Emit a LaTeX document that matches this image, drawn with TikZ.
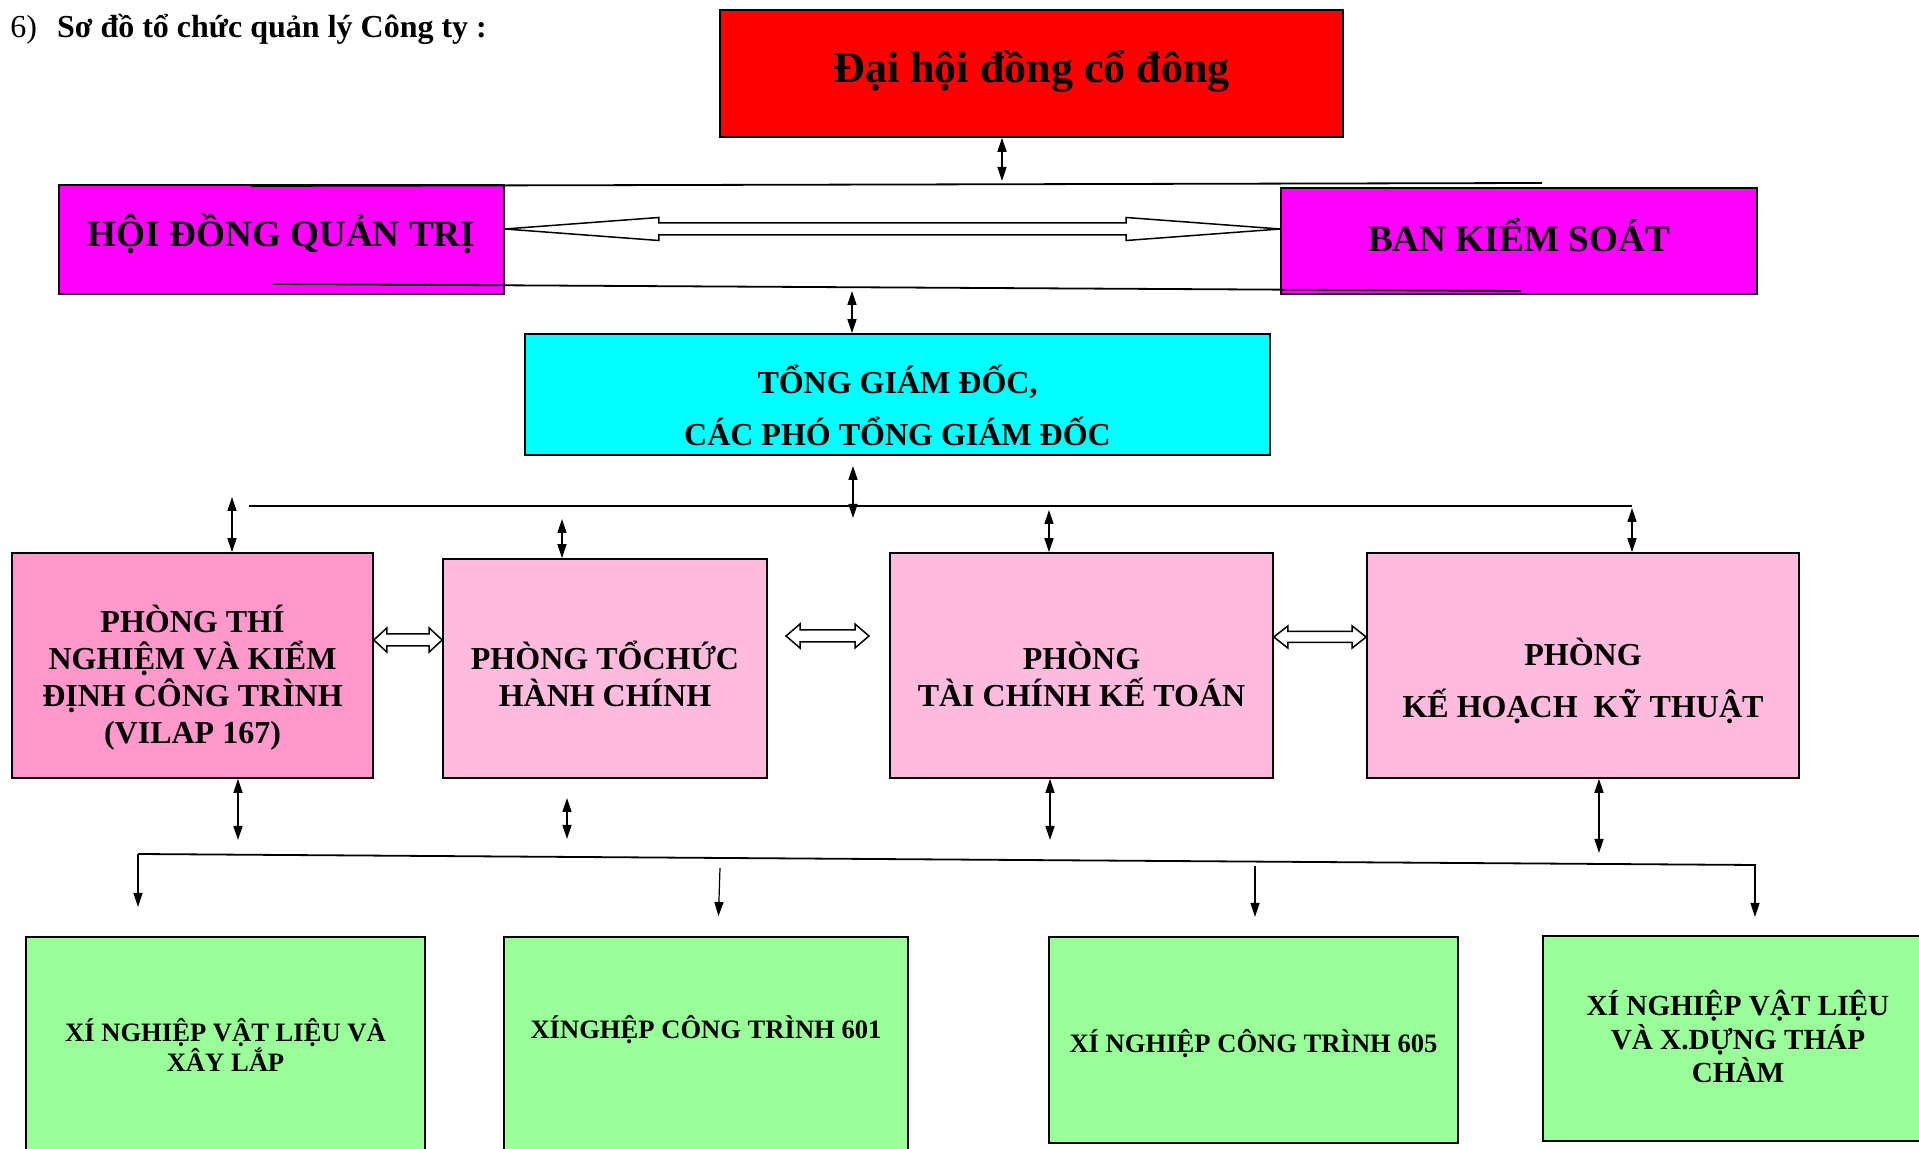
\documentclass[tikz,border=0pt]{standalone}
\usepackage{fontspec}
\setmainfont{Liberation Serif}
\usetikzlibrary{arrows.meta,calc}

\definecolor{meetingred}{HTML}{FF0000}
\definecolor{boardmagenta}{HTML}{FF00FF}
\definecolor{directorcyan}{HTML}{00FFFF}
\definecolor{labpink}{HTML}{FF99CC}
\definecolor{deptpink}{HTML}{FFBBDD}
\definecolor{plantgreen}{HTML}{99FF99}

% hollow two-way block arrow: tip a, tip b, head length, head half height, shaft half height
\newcommand{\twoway}[5]{%
  \draw[hollowarrow] (#1) -- ($(#1)+(#3,-#4)$) -- ($(#1)+(#3,-#5)$) -- ($(#2)+(-#3,-#5)$)
    -- ($(#2)+(-#3,-#4)$) -- (#2) -- ($(#2)+(-#3,#4)$) -- ($(#2)+(-#3,#5)$)
    -- ($(#1)+(#3,#5)$) -- ($(#1)+(#3,#4)$) -- cycle;}

\begin{document}
\begin{tikzpicture}[x=0.5pt,y=-0.5pt,
  >={Triangle[length=7pt,width=4.5pt]},
  unit/.style 2 args={draw, line width=0.8pt, inner sep=0pt,
    minimum width=#1*0.5pt, minimum height=#2*0.5pt},
  boxtext/.style={align=center, inner sep=0pt},
  bigtext/.style={boxtext, font=\fontsize{22}{26}\selectfont\bfseries},
  headtext/.style={boxtext, font=\fontsize{18.6}{22}\selectfont\bfseries},
  depttext/.style={boxtext, font=\fontsize{16}{18.5}\selectfont\bfseries},
  planttext/.style={boxtext, font=\fontsize{13.3}{15.3}\selectfont\bfseries},
  link/.style={<->, line width=0.75pt},
  down/.style={->, line width=0.6pt},
  bus/.style={line width=0.9pt},
  hollowarrow/.style={draw, line width=0.75pt, fill=white}]

\useasboundingbox (0,0) rectangle (1919,1149);

\node[anchor=base west, inner sep=0pt, font=\fontsize{16}{19}\selectfont] (title) at (10,37.5)
  {6)\hspace{10pt}\textbf{Sơ đồ tổ chức quản lý Công ty :}};

% top level
\node[unit={623}{127}, fill=meetingred,
  label={[bigtext, name=dhcdtext, yshift=1pt]center:Đại hội đồng cổ đông}] (dhcd) at (1031.5,73.5) {};
\node[unit={445}{109}, fill=boardmagenta,
  label={[headtext, name=hdqttext, yshift=3pt]center:HỘI ĐỒNG QUẢN TRỊ}] (hdqt) at (281.5,239.5) {};
\node[unit={476}{106}, fill=boardmagenta,
  label={[headtext, name=bkstext, yshift=3pt]center:BAN KIỂM SOÁT}] (bks) at (1519,241) {};
\node[unit={745}{121}, fill=directorcyan,
  label={[depttext, name=tgdtext, yshift=-5.5pt]center:{TỔNG GIÁM ĐỐC,\\[7.5pt] CÁC PHÓ TỔNG GIÁM ĐỐC}}] (tgd) at (897.5,394.5) {};

% departments
\node[unit={361}{225}, fill=labpink,
  label={[depttext, name=labtext, yshift=-6pt]center:{PHÒNG THÍ\\NGHIỆM VÀ KIỂM\\ĐỊNH CÔNG TRÌNH\\(VILAP 167)}}] (lab) at (192.5,665.5) {};
\node[unit={324}{219}, fill=deptpink,
  label={[depttext, name=admintext, yshift=-2.5pt]center:{PHÒNG TỔCHỨC\\HÀNH CHÍNH}}] (admin) at (605,668.5) {};
\node[unit={383}{225}, fill=deptpink,
  label={[depttext, name=financetext, yshift=-4.3pt]center:{PHÒNG\\TÀI CHÍNH KẾ TOÁN}}] (finance) at (1081.5,665.5) {};
\node[unit={432}{225}, fill=deptpink,
  label={[depttext, name=plantext, yshift=-7.5pt]center:{PHÒNG\\[7.5pt] KẾ HOẠCH\ \ KỸ THUẬT}}] (plan) at (1583,665.5) {};

% enterprises
\node[unit={399}{216}, fill=plantgreen,
  label={[planttext, name=plant1text]center:{XÍ NGHIỆP VẬT LIỆU VÀ\\XÂY LẮP}}] (plant1) at (225.5,1045) {};
\node[unit={404}{216}, fill=plantgreen,
  label={[planttext, name=plant2text, yshift=7.5pt]center:XÍNGHỆP CÔNG TRÌNH 601}] (plant2) at (706,1045) {};
\node[unit={409}{206}, fill=plantgreen,
  label={[planttext, name=plant3text, yshift=-2pt]center:XÍ NGHIỆP CÔNG TRÌNH 605}] (plant3) at (1253.5,1040) {};
\node[unit={390}{205}, fill=plantgreen,
  label={[planttext, name=plant4text, yshift=1pt, font=\fontsize{14.6}{16.9}\selectfont\bfseries]center:{XÍ NGHIỆP VẬT LIỆU\\VÀ X.DỰNG THÁP\\CHÀM}}] (plant4) at (1738,1038.5) {};

% board lines
\coordinate (topL) at (251,186);
\coordinate (topR) at (1542,183);
\coordinate (lowL) at (273,284);
\coordinate (lowR) at (1521,291);
\draw[bus] (topL) -- (topR);
\draw[bus] (lowL) -- (lowR);
\coordinate (d1) at (1002,181);
\draw[link] (dhcd.south -| d1) -- (d1);
\coordinate (d2) at (852,291);
\draw[link] (d2) -- (tgd.north -| d2);
\twoway{$(hdqt.east)+(0,-10.5)$}{$(bks.west)+(0,-12)$}{154}{11.5}{6}

% department bus
\coordinate (busL) at (249,506);
\coordinate (busR) at (1632,506);
\draw[bus] (busL) -- (busR);
\coordinate (d3a) at (853,466);
\coordinate (d3b) at (853,518);
\draw[link] (d3a) -- (d3b);
\coordinate (e1) at (232,497);
\draw[link] (e1) -- (lab.north -| e1);
\coordinate (e2) at (562,519);
\draw[link] (e2) -- (admin.north -| e2);
\coordinate (e3) at (1049,510);
\draw[link] (e3) -- (finance.north -| e3);
\coordinate (e4) at (1632,508);
\draw[link] (e4) -- (plan.north -| e4);

\twoway{$(lab.east)+(0,-25.5)$}{$(admin.west)+(0,-28.5)$}{13}{12}{6}
\coordinate (m1) at (786,636);
\coordinate (m2) at (869,636);
\twoway{m1}{m2}{14}{12}{6}
\twoway{$(finance.east)+(0,-28.5)$}{$(plan.west)+(0,-28.5)$}{14}{11}{5.5}

% enterprise bus
\coordinate (f1) at (238,840);
\draw[link] (lab.south -| f1) -- (f1);
\coordinate (f2a) at (567,798);
\coordinate (f2b) at (567,839);
\draw[link] (f2a) -- (f2b);
\coordinate (f3) at (1050,840);
\draw[link] (finance.south -| f3) -- (f3);
\coordinate (f4) at (1599,853);
\draw[link] (plan.south -| f4) -- (f4);

\coordinate (entL) at (138,854);
\coordinate (entR) at (1756,865);
\draw[bus] (entL) -- (entR);
\coordinate (k1) at (138,907);
\draw[down] (entL) -- (k1);
\coordinate (j2) at (720,868);
\coordinate (k2) at (718.5,916);
\draw[down] (j2) -- (k2);
\coordinate (j3) at (1255,866);
\coordinate (k3) at (1255,917);
\draw[down] (j3) -- (k3);
\coordinate (k4) at (1755,917);
\draw[down] (entR -| k4) -- (k4);

\end{tikzpicture}
\end{document}
